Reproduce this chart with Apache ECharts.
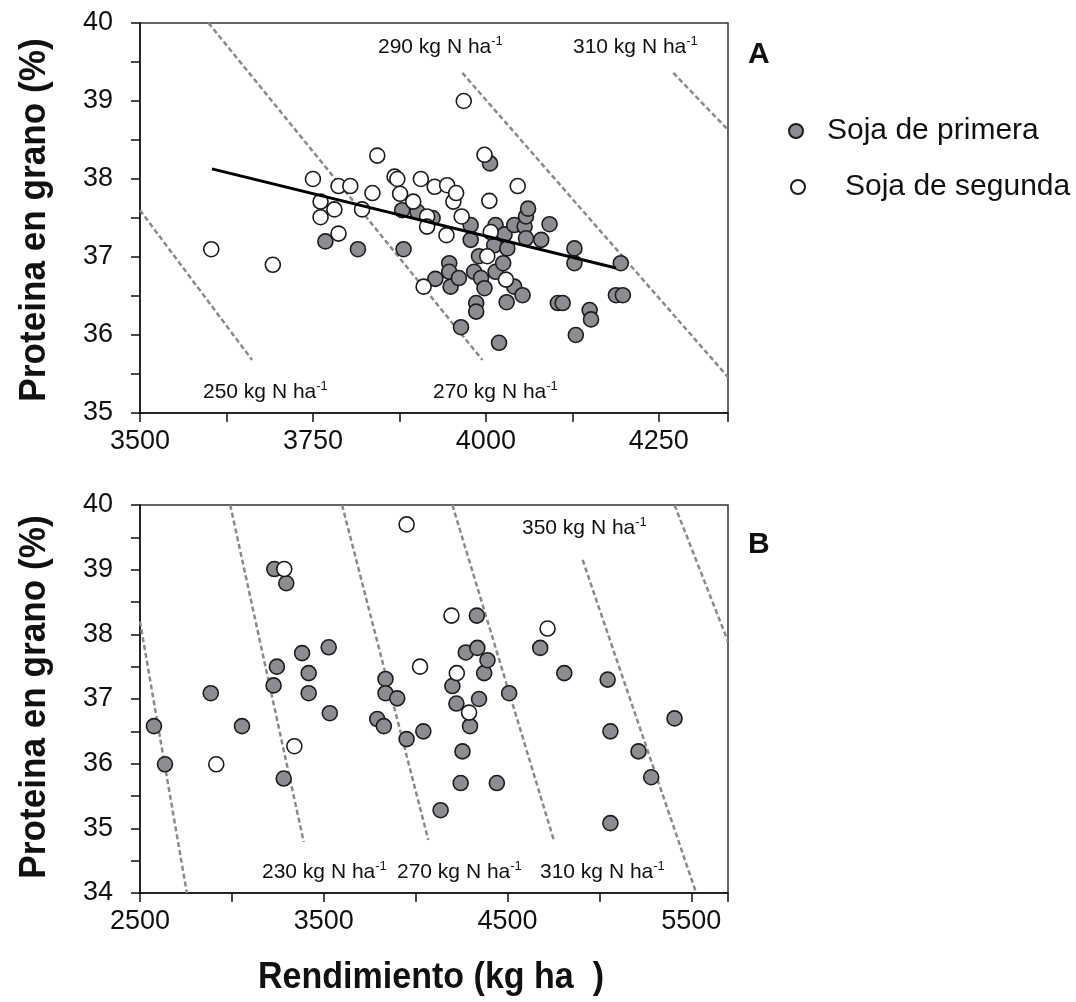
<!DOCTYPE html>
<html>
<head>
<meta charset="utf-8">
<script src="https://cdn.jsdelivr.net/npm/echarts@6/dist/echarts.min.js"></script>
<style>
  html, body { margin: 0; padding: 0; background: #fff; }
  #chart { width: 1076px; height: 1002px; }
</style>
</head>
<body>
<div id="chart"></div>
<script>
// ---- Panel A: rendimiento vs proteína ----
const primeraA = [
  [3768,37.2],[3815,37.1],[3881,37.1],[3879,37.6],[3901,37.58],[3923,37.5],[3927,36.72],
  [3947,36.92],[3947,36.81],[3949,36.62],[3961,36.73],[3964,36.1],[3978,37.41],[3978,37.22],
  [3983,36.81],[3986,36.41],[3986,36.3],[3990,37.01],[3993,36.73],[3998,36.6],[4006,38.2],
  [4012,37.15],[4014,37.41],[4014,36.81],[4019,35.9],[4025,36.92],[4027,37.29],[4031,37.11],
  [4030,36.42],[4041,37.41],[4041,36.62],[4053,36.51],[4056,37.39],[4058,37.24],[4058,37.52],
  [4061,37.62],[4080,37.22],[4092,37.42],[4104,36.41],[4111,36.41],[4128,37.11],[4128,36.92],
  [4130,36.0],[4150,36.32],[4152,36.2],[4188,36.51],[4198,36.51],[4195,36.92]
];
const segundaA = [
  [3603,37.1],[3692,36.9],[3750,38.0],[3761,37.71],[3761,37.51],[3781,37.61],[3787,37.91],
  [3787,37.3],[3804,37.91],[3821,37.61],[3836,37.82],[3843,38.3],[3868,38.03],[3872,38.0],
  [3876,37.81],[3895,37.71],[3906,38.0],[3910,36.62],[3915,37.52],[3915,37.39],[3926,37.9],
  [3943,37.28],[3944,37.92],[3953,37.71],[3957,37.82],[3965,37.52],[3968,39.0],[3998,38.31],
  [4002,37.01],[4005,37.72],[4007,37.32],[4029,36.71],[4046,37.91]
];
const regresionA = [[3604,38.13],[4188,36.86]];
// iso-N lines (kg N/ha) for panel A
const isoA = [
  [[3500,37.6],[3662,35.68]],
  [[3599,40.0],[3995,35.68]],
  [[3966,39.36],[4350,35.46]],
  [[4271,39.36],[4350,38.63]]
];
const isoLabelsA = ['290', '310', '250', '270'];

// ---- Panel B ----
const primeraB = [
  [2576,36.58],[2636,35.99],[2885,37.09],[3055,36.58],[3227,37.21],[3231,39.01],[3245,37.5],
  [3282,35.77],[3296,38.79],[3382,37.71],[3418,37.4],[3418,37.09],[3527,37.8],[3533,36.78],
  [3791,36.69],[3827,36.58],[3836,37.31],[3836,37.09],[3900,37.01],[3951,36.38],[4042,36.5],
  [4136,35.28],[4200,37.2],[4222,36.93],[4245,35.7],[4255,36.19],[4273,37.72],[4296,36.58],
  [4333,38.29],[4336,37.79],[4345,37.0],[4373,37.4],[4391,37.6],[4442,35.7],[4509,37.09],
  [4678,37.79],[4809,37.4],[5045,37.3],[5060,36.5],[5060,35.08],[5213,36.19],[5282,35.79],
  [5409,36.7]
];
const segundaB = [
  [2915,35.99],[3285,39.01],[3340,36.27],[3951,39.7],[4024,37.5],[4195,38.29],[4224,37.4],
  [4291,36.79],[4718,38.09]
];
const isoB = [
  [[2500,38.2],[2755,34.0]],
  [[2991,40.0],[3391,34.79]],
  [[3600,40.0],[4069,34.82]],
  [[4200,40.0],[4755,34.79]],
  [[4909,39.15],[5527,34.0]],
  [[5409,40.0],[5700,37.89]]
];
const isoLabelsB = ['350', '230', '270', '310'];

const xTicksA = { min: 3500, max: 4350, interval: 250 };
const yTicksA = { min: 35, max: 40, interval: 1 };
const xTicksB = { min: 2500, max: 5700, interval: 1000 };
const yTicksB = { min: 34, max: 40, interval: 1 };

const FONT = '"Liberation Sans", Arial, sans-serif';
const GRAY = '#8c8c92';
const EDGE = '#1c1c1c';
const INK = '#111';

function xAxis(t, gridIndex) {
  return {
    type: 'value', gridIndex, min: t.min, max: t.max, interval: t.interval,
    splitLine: { show: false },
    axisLine: { show: true, onZero: false, lineStyle: { color: INK, width: 1.5 } },
    axisTick: { show: true, inside: false, length: 9, lineStyle: { color: INK, width: 1.5 } },
    minorTick: { show: true, splitNumber: 2, length: 9, lineStyle: { color: INK, width: 1.5 } },
    axisLabel: { color: INK, fontFamily: FONT, fontSize: 27, margin: 15,
                 showMaxLabel: false, formatter: v => String(v) }
  };
}
function yAxis(t, gridIndex) {
  return {
    type: 'value', gridIndex, min: t.min, max: t.max, interval: t.interval,
    splitLine: { show: false },
    axisLine: { show: true, onZero: false, lineStyle: { color: INK, width: 1.5 } },
    axisTick: { show: true, inside: false, length: 9, lineStyle: { color: INK, width: 1.5 } },
    minorTick: { show: true, splitNumber: 2, length: 9, lineStyle: { color: INK, width: 1.5 } },
    axisLabel: { color: INK, fontFamily: FONT, fontSize: 27, margin: 27, formatter: v => String(v) }
  };
}

function isoSeries(lines, axisIndex) {
  return lines.map(pts => ({
    type: 'line', xAxisIndex: axisIndex, yAxisIndex: axisIndex,
    data: pts, symbol: 'none', silent: true, z: 1,
    lineStyle: { color: '#8a8a8a', width: 2.5, type: [5, 3] }
  }));
}
function pointSeries(name, data, axisIndex, filled) {
  return {
    name, type: 'scatter', xAxisIndex: axisIndex, yAxisIndex: axisIndex,
    data, symbol: 'circle', symbolSize: 15, z: filled ? 3 : 4,
    itemStyle: { color: filled ? GRAY : '#fff', borderColor: EDGE, borderWidth: 1.6, opacity: 1 }
  };
}

function nLabel(value, left, top) {
  return {
    type: 'text', left, top, z: 10, silent: true,
    style: {
      text: '{n|' + value + ' kg N ha}{s|-1}',
      rich: {
        n: { fontFamily: FONT, fontSize: 21, lineHeight: 24, fill: INK },
        s: { fontFamily: FONT, fontSize: 13, lineHeight: 14, verticalAlign: 'top', fill: INK }
      }
    }
  };
}
// axis titles, slightly condensed bold
function title(text, x, y, rotation, scaleX) {
  return {
    type: 'text', x, y, rotation, scaleX, silent: true,
    style: { text, align: 'center', verticalAlign: 'middle',
             fontFamily: FONT, fontWeight: 'bold', fontSize: 37, fill: INK }
  };
}

const chart = echarts.init(document.getElementById('chart'), null, { renderer: 'canvas' });
chart.setOption({
  backgroundColor: '#fff',
  animation: false,
  grid: [
    { left: 140, top: 23, width: 588, height: 390, show: true, borderColor: '#333', borderWidth: 1.5, backgroundColor: 'transparent' },
    { left: 140, top: 505, width: 588, height: 388, show: true, borderColor: '#333', borderWidth: 1.5, backgroundColor: 'transparent' }
  ],
  xAxis: [xAxis(xTicksA, 0), xAxis(xTicksB, 1)],
  yAxis: [yAxis(yTicksA, 0), yAxis(yTicksB, 1)],
  legend: [
    { data: ['Soja de primera'], left: 783, top: 111, icon: 'circle', itemWidth: 14, itemHeight: 14,
      selectedMode: false, textStyle: { fontFamily: FONT, fontSize: 30, color: INK, padding: [0, 0, 0, 19] } },
    { data: ['Soja de segunda'], left: 785, top: 167, icon: 'circle', itemWidth: 14, itemHeight: 14,
      selectedMode: false, textStyle: { fontFamily: FONT, fontSize: 30, color: INK, padding: [0, 0, 0, 35] } }
  ],
  graphic: [
    title('Proteina en grano (%)', 35, 220, Math.PI / 2, 0.95),
    title('Proteina en grano (%)', 35, 697, Math.PI / 2, 0.95),
    title('Rendimiento (kg ha  )', 431, 978, 0, 0.92),
    { type: 'text', left: 748, top: 40, style: { text: 'A', fontFamily: FONT, fontWeight: 'bold', fontSize: 30, fill: INK } },
    { type: 'text', left: 748, top: 530, style: { text: 'B', fontFamily: FONT, fontWeight: 'bold', fontSize: 30, fill: INK } },
    nLabel(isoLabelsA[0], 378, 35),
    nLabel(isoLabelsA[1], 573, 35),
    nLabel(isoLabelsA[2], 203, 380),
    nLabel(isoLabelsA[3], 433, 380),
    nLabel(isoLabelsB[0], 522, 516),
    nLabel(isoLabelsB[1], 262, 860),
    nLabel(isoLabelsB[2], 397, 860),
    nLabel(isoLabelsB[3], 540, 860)
  ],
  series: [
    ...isoSeries(isoA, 0),
    pointSeries('Soja de primera', primeraA, 0, true),
    pointSeries('Soja de segunda', segundaA, 0, false),
    { type: 'line', xAxisIndex: 0, yAxisIndex: 0, data: regresionA, symbol: 'none', z: 5, silent: true,
      lineStyle: { color: '#000', width: 3 } },
    ...isoSeries(isoB, 1),
    pointSeries('Soja de primera', primeraB, 1, true),
    pointSeries('Soja de segunda', segundaB, 1, false)
  ]
});
</script>
</body>
</html>
